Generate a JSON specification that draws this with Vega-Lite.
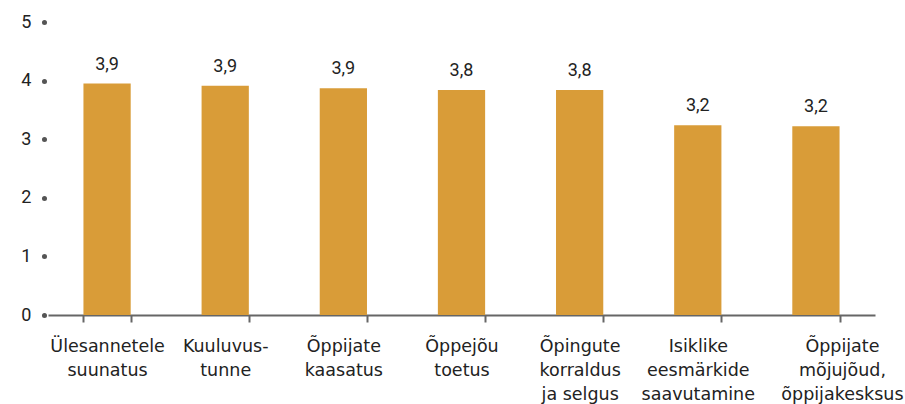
{
  "$schema": "https://vega.github.io/schema/vega-lite/v6.json",
  "autosize": "none",
  "width": 827,
  "height": 293,
  "padding": {"left": 48, "top": 22, "right": 30, "bottom": 89},
  "background": "white",
  "config": {"view": {"stroke": null}, "font": "Roboto"},
  "data": {
    "values": [
      {"cat": "Ülesannetele|suunatus", "value": 3.95, "label": "3,9"},
      {"cat": "Kuuluvus-|tunne", "value": 3.91, "label": "3,9"},
      {"cat": "Õppijate|kaasatus", "value": 3.87, "label": "3,9"},
      {"cat": "Õppejõu|toetus", "value": 3.84, "label": "3,8"},
      {"cat": "Õpingute|korraldus|ja selgus", "value": 3.84, "label": "3,8"},
      {"cat": "Isiklike|eesmärkide|saavutamine", "value": 3.24, "label": "3,2"},
      {"cat": "Õppijate|mõjujõud,|õppijakesksus", "value": 3.22, "label": "3,2"}
    ]
  },
  "encoding": {
    "x": {
      "field": "cat",
      "type": "nominal",
      "sort": null,
      "scale": {"paddingInner": 0.6, "paddingOuter": 0.3},
      "axis": {
        "title": null,
        "labelAngle": 0,
        "labelExpr": "split(datum.label, '|')",
        "labelFont": "DejaVu Sans",
        "labelFontSize": 17.5,
        "labelColor": "#222",
        "labelLineHeight": 24,
        "labelPadding": 15,
        "labelBaseline": "top",
        "labelOverlap": false,
        "labelBound": false,
        "labelOffset": {"condition": {"test": "datum.value == 'Õppijate|mõjujõud,|õppijakesksus'", "value": 26}, "value": 0},
        "tickBand": "extent",
        "tickSize": 7,
        "tickWidth": 2,
        "tickColor": "#666",
        "domainColor": "#666",
        "domainWidth": 2
      }
    },
    "y": {
      "field": "value",
      "type": "quantitative",
      "scale": {"domain": [0, 5], "nice": false},
      "axis": {
        "title": null,
        "values": [0, 1, 2, 3, 4, 5],
        "grid": false,
        "domain": false,
        "offset": 4,
        "tickSize": 0.01,
        "tickWidth": 5,
        "tickCap": "round",
        "tickColor": "#555",
        "labelFontSize": 18,
        "labelColor": "#222",
        "labelPadding": 13
      }
    }
  },
  "layer": [
    {"mark": {"type": "bar", "color": "#D99C38"}},
    {
      "mark": {"type": "text", "baseline": "alphabetic", "dy": -14, "fontSize": 18, "color": "#222"},
      "encoding": {"text": {"field": "label"}}
    }
  ]
}
